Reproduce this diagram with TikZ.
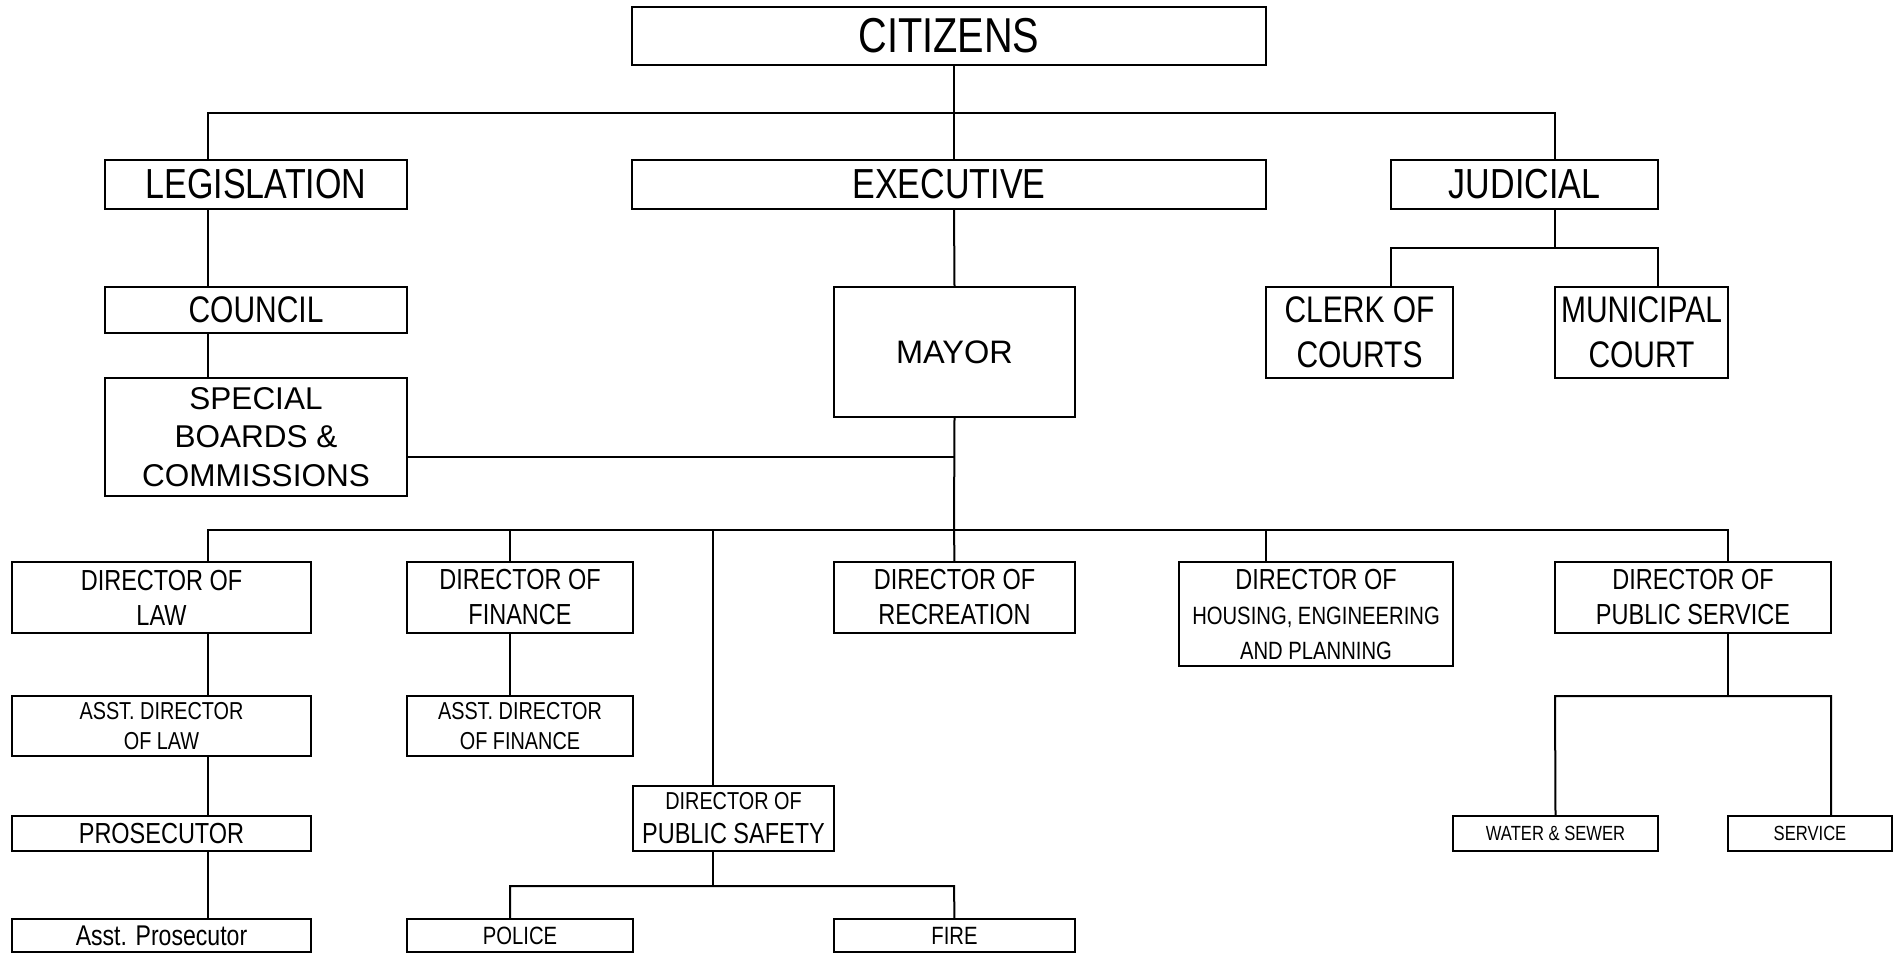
\documentclass[tikz,border=0pt]{standalone}
\usepackage{fontspec}
\setmainfont{Liberation Sans}[FakeStretch=0.81]
\newfontfamily\regfont{Liberation Sans}
\begin{document}
\begin{tikzpicture}[x=1pt,y=-1pt,
  box/.style={draw, line width=2.6pt, inner sep=0pt, outer sep=0pt, align=center},
  conn/.style={line width=2pt}]
\useasboundingbox (0,0) rectangle (1902,954);
% column coordinates
\coordinate (xl) at (208,0);
\coordinate (xf) at (510,0);
\coordinate (xs) at (713,0);
\coordinate (xm) at (954,0);
\coordinate (xh) at (1266,0);
\coordinate (xc) at (1391,0);
\coordinate (xj) at (1555,0);
\coordinate (xmu) at (1658,0);
\coordinate (xp) at (1728,0);
\coordinate (xsv) at (1831,0);
% bus rows
\coordinate (tb) at (0,113);
\coordinate (jb) at (0,248);
\coordinate (sb) at (0,457);
\coordinate (lb) at (0,530);
\coordinate (pb) at (0,696);
\coordinate (fb) at (0,886);

\node[box, minimum width=634pt, minimum height=58pt, font=\fontsize{49}{55}\selectfont] (cit) at (949,36) {CITIZENS};
\node[box, minimum width=302pt, minimum height=49pt, font=\fontsize{42}{48}\selectfont] (leg) at (256,184.5) {LEGISLATION};
\node[box, minimum width=634pt, minimum height=49pt, font=\fontsize{42}{48}\selectfont] (exec) at (949,184.5) {EXECUTIVE};
\node[box, minimum width=267pt, minimum height=49pt, font=\fontsize{42}{48}\selectfont] (jud) at (1524.5,184.5) {JUDICIAL};
\node[box, minimum width=302pt, minimum height=46pt, font=\fontsize{37}{42}\selectfont] (council) at (256,310) {COUNCIL};
\node[box, minimum width=302pt, minimum height=118pt, font=\regfont\fontsize{31.5}{38.5}\selectfont] (special) at (256,437) {SPECIAL\\BOARDS \&\\COMMISSIONS};
\node[box, minimum width=241pt, minimum height=130pt, font=\regfont\fontsize{32.5}{38}\selectfont] (mayor) at (954.5,352) {MAYOR};
\node[box, minimum width=187pt, minimum height=91pt, font=\fontsize{37}{45}\selectfont] (clerk) at (1359.5,332.5) {CLERK OF\\COURTS};
\node[box, minimum width=173pt, minimum height=91pt, font=\fontsize{37}{45}\selectfont] (muni) at (1641.5,332.5) {MUNICIPAL\\COURT};

\node[box, minimum width=299pt, minimum height=71pt, font=\fontsize{29}{35}\selectfont] (dlaw) at (161.5,597.5) {DIRECTOR OF\\LAW};
\node[box, minimum width=226pt, minimum height=71pt, font=\fontsize{29}{35}\selectfont] (dfin) at (520,597.5) {DIRECTOR OF\\FINANCE};
\node[box, minimum width=241pt, minimum height=71pt, font=\fontsize{29}{35}\selectfont] (drec) at (954.5,597.5) {DIRECTOR OF\\RECREATION};
\node[box, minimum width=274pt, minimum height=104pt, font=\fontsize{25}{35}\selectfont] (dhou) at (1316,614) {{\fontsize{29}{35}\selectfont DIRECTOR OF}\\HOUSING, ENGINEERING\\AND PLANNING};
\node[box, minimum width=276pt, minimum height=71pt, font=\fontsize{29}{35}\selectfont] (dps) at (1693,597.5) {DIRECTOR OF\\PUBLIC SERVICE};

\node[box, minimum width=299pt, minimum height=60pt, font=\fontsize{24.5}{30}\selectfont] (adlaw) at (161.5,726) {ASST. DIRECTOR\\OF LAW};
\node[box, minimum width=226pt, minimum height=60pt, font=\fontsize{24.5}{30}\selectfont] (adfin) at (520,726) {ASST. DIRECTOR\\OF FINANCE};
\node[box, minimum width=299pt, minimum height=35pt, font=\fontsize{29}{35}\selectfont] (pros) at (161.5,833.5) {PROSECUTOR};
\node[box, minimum width=299pt, minimum height=33pt, font=\fontsize{28.5}{33}\selectfont] (apros) at (161.5,935.5) {Asst. Prosecutor};
\node[box, minimum width=201pt, minimum height=65pt, font=\fontsize{29}{34}\selectfont] (dsaf) at (733.5,818.5) {{\fontsize{24.5}{34}\selectfont DIRECTOR OF}\\PUBLIC SAFETY};
\node[box, minimum width=226pt, minimum height=33pt, font=\fontsize{25}{30}\selectfont] (police) at (520,935.5) {POLICE};
\node[box, minimum width=241pt, minimum height=33pt, font=\fontsize{25}{30}\selectfont] (fire) at (954.5,935.5) {FIRE};
\node[box, minimum width=205pt, minimum height=35pt, font=\fontsize{20.5}{24}\selectfont] (water) at (1555.5,833.5) {WATER \& SEWER};
\node[box, minimum width=164pt, minimum height=35pt, font=\fontsize{20.5}{24}\selectfont] (service) at (1810,833.5) {SERVICE};

% top level
\draw[conn] (cit.south -| xm) -- (exec.north -| xm);
\draw[conn] (leg.north -| xl) -- (xl |- tb) -- (xj |- tb) -- (jud.north -| xj);
% legislation chain
\draw[conn] (leg.south -| xl) -- (council.north -| xl);
\draw[conn] (council.south -| xl) -- (special.north -| xl);
% executive chain
\draw[conn] (exec.south -| xm) -- (mayor.north);
\draw[conn] (special.east |- sb) -- (xm |- sb);
\draw[conn] (mayor.south) -- (xm |- lb);
% judicial
\draw[conn] (jud.south -| xj) -- (xj |- jb);
\draw[conn] (clerk.north -| xc) -- (xc |- jb) -- (xmu |- jb) -- (muni.north -| xmu);
% directors bus
\draw[conn] (dlaw.north -| xl) -- (xl |- lb) -- (xp |- lb) -- (dps.north -| xp);
\draw[conn] (xf |- lb) -- (dfin.north -| xf);
\draw[conn] (xs |- lb) -- (dsaf.north -| xs);
\draw[conn] (xm |- lb) -- (drec.north);
\draw[conn] (xh |- lb) -- (dhou.north -| xh);
% law chain
\draw[conn] (dlaw.south -| xl) -- (adlaw.north -| xl);
\draw[conn] (adlaw.south -| xl) -- (pros.north -| xl);
\draw[conn] (pros.south -| xl) -- (apros.north -| xl);
% finance
\draw[conn] (dfin.south -| xf) -- (adfin.north -| xf);
% public safety
\draw[conn] (dsaf.south -| xs) -- (xs |- fb);
\draw[conn] (police.north -| xf) -- (xf |- fb) -- (xm |- fb) -- (fire.north);
% public service
\draw[conn] (dps.south -| xp) -- (xp |- pb);
\draw[conn] (water.north) -- (xj |- pb) -- (xsv |- pb) -- (service.north -| xsv);
\end{tikzpicture}
\end{document}
